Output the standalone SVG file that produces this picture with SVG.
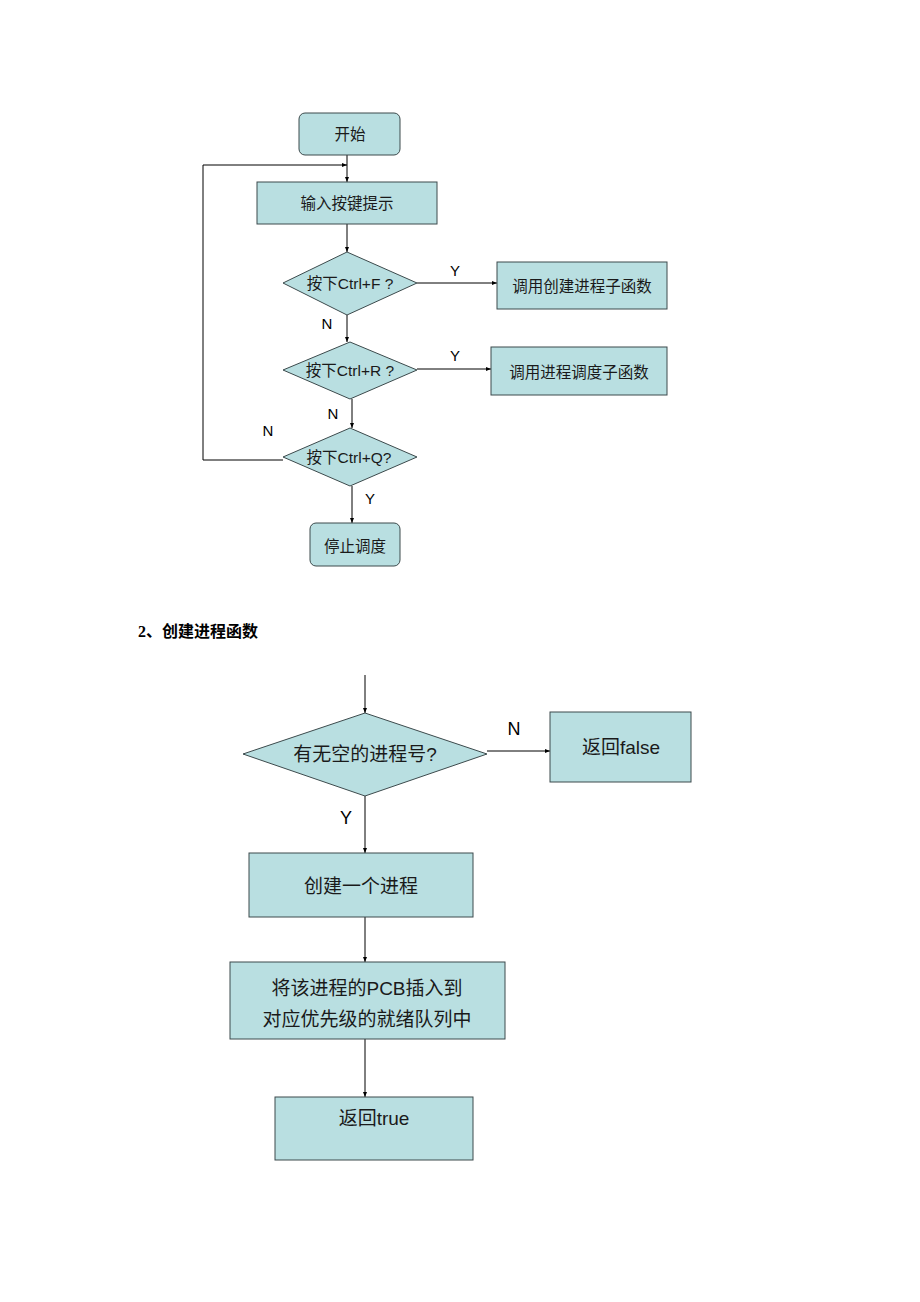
<svg xmlns="http://www.w3.org/2000/svg" width="920" height="1302" viewBox="0 0 920 1302">
<style>
.n{fill:#b9dfe1;stroke:#3c4a4c;stroke-width:1}
.t{font-family:"Liberation Sans","Noto Sans CJK SC",sans-serif;fill:#1a1a1a;text-anchor:middle;dominant-baseline:central}
.s{font-size:15.5px}
.b{font-size:19px}
.l{font-family:"Liberation Sans",sans-serif;fill:#000;text-anchor:middle;dominant-baseline:central}
.c{fill:none;stroke:#000;stroke-width:1}
</style>
<defs>
<marker id="a" markerWidth="6" markerHeight="6" refX="5" refY="3" orient="auto" markerUnits="userSpaceOnUse">
<path d="M0,1 L5,3 L0,5 Z" fill="#000"/>
</marker>
</defs>
<rect width="920" height="1302" fill="#fff"/>
<g id="connectors">
<line class="c" x1="347" y1="155" x2="347" y2="182" marker-end="url(#a)"/>
<polyline class="c" points="283,460 203,460 203,165 347,165" marker-end="url(#a)"/>
<line class="c" x1="347" y1="224" x2="347" y2="252" marker-end="url(#a)"/>
<line class="c" x1="417" y1="283" x2="497" y2="283" marker-end="url(#a)"/>
<line class="c" x1="347" y1="315" x2="347" y2="342" marker-end="url(#a)"/>
<line class="c" x1="417" y1="369" x2="491" y2="369" marker-end="url(#a)"/>
<line class="c" x1="352" y1="399" x2="352" y2="428" marker-end="url(#a)"/>
<line class="c" x1="352" y1="486" x2="352" y2="523" marker-end="url(#a)"/>
<line class="c" x1="365" y1="675" x2="365" y2="713" marker-end="url(#a)"/>
<line class="c" x1="487" y1="751" x2="550" y2="751" marker-end="url(#a)"/>
<line class="c" x1="365" y1="796" x2="365" y2="853" marker-end="url(#a)"/>
<line class="c" x1="365" y1="917" x2="365" y2="962" marker-end="url(#a)"/>
<line class="c" x1="365" y1="1039" x2="365" y2="1097" marker-end="url(#a)"/>
<text class="l" x="455" y="270" font-size="15">Y</text>
<text class="l" x="327" y="323" font-size="15">N</text>
<text class="l" x="455" y="355" font-size="15">Y</text>
<text class="l" x="333" y="413" font-size="15">N</text>
<text class="l" x="268" y="430" font-size="15">N</text>
<text class="l" x="370" y="498" font-size="15">Y</text>
<text class="l" x="514" y="729" font-size="18">N</text>
<text class="l" x="346" y="818" font-size="18">Y</text>
</g>
<g id="start"><rect class="n" x="299" y="113" width="101" height="42" rx="6"/><text class="t s" x="350" y="134">开始</text></g>
<g id="input"><rect class="n" x="257" y="182" width="180" height="42"/><text class="t s" x="347" y="203">输入按键提示</text></g>
<g id="d1"><polygon class="n" points="347,252 417,283 347,315 283,283"/><text class="t s" x="350" y="283">按下Ctrl+F ?</text></g>
<g id="create"><rect class="n" x="497" y="262" width="170" height="47"/><text class="t s" x="582" y="286">调用创建进程子函数</text></g>
<g id="d2"><polygon class="n" points="350,342 417,370 350,399 283,370"/><text class="t s" x="350" y="370">按下Ctrl+R ?</text></g>
<g id="sched"><rect class="n" x="491" y="347" width="176" height="48"/><text class="t s" x="579" y="372">调用进程调度子函数</text></g>
<g id="d3"><polygon class="n" points="350,428 417,457 350,486 283,457"/><text class="t s" x="349" y="457">按下Ctrl+Q?</text></g>
<g id="stop"><rect class="n" x="310" y="523" width="90" height="43" rx="6"/><text class="t s" x="355" y="546">停止调度</text></g>
<g id="heading"><text x="138" y="631" font-family="'Liberation Serif','Noto Sans CJK SC',serif" font-weight="bold" font-size="16" fill="#000" dominant-baseline="central">2、创建进程函数</text></g>
<g id="d4"><polygon class="n" points="365,713 487,754 365,796 243,754"/><text class="t b" x="365" y="754">有无空的进程号?</text></g>
<g id="false"><rect class="n" x="550" y="712" width="141" height="70"/><text class="t b" x="621" y="747">返回false</text></g>
<g id="newproc"><rect class="n" x="249" y="853" width="224" height="64"/><text class="t b" x="361" y="886">创建一个进程</text></g>
<g id="insert"><rect class="n" x="230" y="962" width="275" height="77"/><text class="t b" x="367" y="988">将该进程的PCB插入到</text><text class="t b" x="367" y="1019">对应优先级的就绪队列中</text></g>
<g id="true"><rect class="n" x="275" y="1097" width="198" height="63"/><text class="t b" x="374" y="1118">返回true</text></g>
</svg>
